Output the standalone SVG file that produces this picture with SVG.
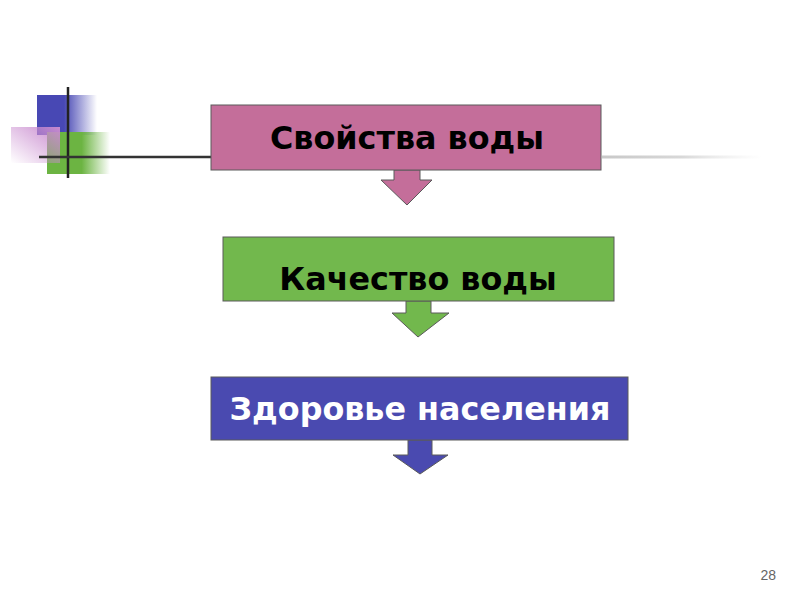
<svg xmlns="http://www.w3.org/2000/svg" width="800" height="600" viewBox="0 0 800 600">
<defs>
<linearGradient id="gBlue" x1="0" y1="0" x2="1" y2="0">
<stop offset="0" stop-color="#4848B4"/><stop offset="0.45" stop-color="#4848B4"/><stop offset="1" stop-color="#4848B4" stop-opacity="0"/>
</linearGradient>
<linearGradient id="gGreen" x1="0" y1="0" x2="1" y2="0">
<stop offset="0" stop-color="#6CB442"/><stop offset="0.55" stop-color="#6CB442"/><stop offset="1" stop-color="#6CB442" stop-opacity="0"/>
</linearGradient>
<linearGradient id="gPink" x1="1" y1="0" x2="0" y2="1">
<stop offset="0" stop-color="#C98BCF"/><stop offset="1" stop-color="#C98BCF" stop-opacity="0"/>
</linearGradient>
<linearGradient id="gLine" x1="0" y1="0" x2="1" y2="0">
<stop offset="0" stop-color="#C8C8C8"/><stop offset="0.5" stop-color="#D8D8D8"/><stop offset="1" stop-color="#E8E8E8" stop-opacity="0"/>
</linearGradient>
</defs>
<style>
.box{stroke:#5a5a5a;stroke-width:1}
.lbl{font-family:"DejaVu Sans","Verdana",sans-serif;font-weight:bold;font-size:31.8px;text-anchor:middle}
</style>
<rect width="800" height="600" fill="#ffffff"/>
<g id="decor">
<rect x="37" y="95" width="60" height="40" fill="url(#gBlue)"/>
<rect x="47" y="132" width="63" height="42" fill="url(#gGreen)"/>
<rect x="11" y="127" width="49" height="36" fill="url(#gPink)"/>
<line x1="68" y1="87" x2="68" y2="178" stroke="#222" stroke-width="2.5"/>
<line x1="39" y1="157" x2="212" y2="157" stroke="#333" stroke-width="2.5"/>
<rect x="602" y="155.5" width="160" height="3" fill="url(#gLine)"/>
</g>
<g id="connectors">
<polygon points="394,170 420,170 420,180 432,180 407,205 381,180 394,180" fill="#C46E9A" stroke="#5a5a5a" stroke-width="1"/>
<polygon points="406,301 431,301 431,313 449,313 418,337 392,313 406,313" fill="#72B84D" stroke="#5a5a5a" stroke-width="1"/>
<polygon points="408,440 432,440 432,455 448,455 420,474 393,455 408,455" fill="#4A4AB0" stroke="#5a5a5a" stroke-width="1"/>
</g>
<g id="node1">
<rect class="box" x="211" y="105" width="390" height="65" fill="#C46E9A"/>
<text class="lbl" x="407" y="149" fill="#000">Свойства воды</text>
</g>
<g id="node2">
<rect class="box" x="223" y="237" width="391" height="64" fill="#72B84D"/>
<text class="lbl" x="418" y="290" fill="#000">Качество воды</text>
</g>
<g id="node3">
<rect class="box" x="211" y="377" width="417" height="63" fill="#4A4AB0"/>
<text class="lbl" x="420" y="420" fill="#fff">Здоровье населения</text>
</g>
<text x="776" y="580" font-family="Liberation Sans, Arial, sans-serif" font-size="14" fill="#666" text-anchor="end">28</text>
</svg>
